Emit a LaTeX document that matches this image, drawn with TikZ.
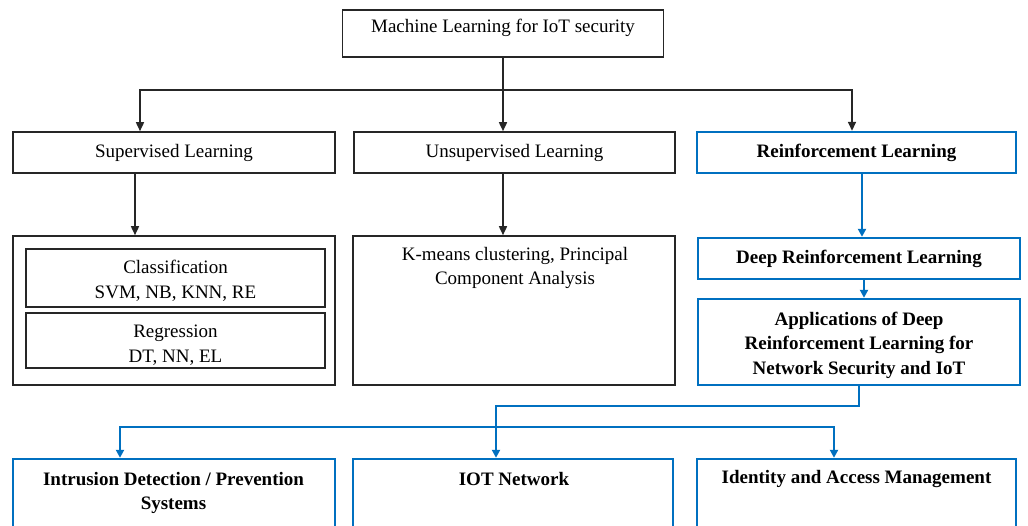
\documentclass[tikz,border=0pt]{standalone}
\usepackage{fontspec}
\setmainfont{Liberation Serif}
\usetikzlibrary{arrows.meta}
\definecolor{dblue}{HTML}{0070C0}
\begin{document}
\begin{tikzpicture}[x=1pt,y=-1pt,
  txt/.style={font=\fontsize{19}{24.5}\selectfont, align=center, inner sep=0pt},
  btxt/.style={txt, font=\fontsize{19}{24.5}\selectfont\bfseries},
  kbox/.style={txt, draw=black!85, line width=1.6pt},
  bbox/.style={btxt, draw=dblue, line width=2.4pt},
  karr/.style={draw=black!85, line width=1.6pt, -{Triangle[length=9pt,width=8pt]}},
  barr/.style={draw=dblue, line width=2.4pt, -{Triangle[length=8pt,width=8pt]}}]

% page frame
\clip (0,0) rectangle (1028,526);
\fill[white] (0,0) rectangle (1028,526);

% root
\node[kbox, minimum width=321pt, minimum height=47pt] (root) at (503,33.5) {};
\node[txt] (roottxt) at (503,28) {Machine Learning for IoT security};

% first level
\node[kbox, minimum width=322pt, minimum height=41pt] (sup) at (174,152.5) {Supervised Learning};
\node[kbox, minimum width=321pt, minimum height=41pt] (unsup) at (514.5,152.5) {Unsupervised Learning};
\node[bbox, minimum width=319pt, minimum height=41pt] (rl) at (856.5,152.5) {Reinforcement Learning};

% supervised methods
\node[kbox, minimum width=322pt, minimum height=149pt] (supc) at (174,310.5) {};
\node[kbox, minimum width=299pt, minimum height=58pt] (cls) at (175.5,278) {};
\node[txt] (clstxt) at (175.5,281) {Classification\\SVM, NB, KNN, RE};
\node[kbox, minimum width=299pt, minimum height=55pt] (reg) at (175.5,340.5) {};
\node[txt] (regtxt) at (175.5,345) {Regression\\DT, NN, EL};

% unsupervised methods
\node[kbox, minimum width=322pt, minimum height=149pt] (unsc) at (514,310.5) {};
\node[txt] (unsctxt) at (515,268) {K-means clustering, Principal\\Component Analysis};

% reinforcement branch
\node[bbox, minimum width=322pt, minimum height=41pt] (drl) at (859,258.5) {Deep Reinforcement Learning};
\node[bbox, minimum width=322pt, minimum height=86pt] (app) at (859,342) {};
\node[btxt] (apptxt) at (859,345) {Applications of Deep\\Reinforcement Learning for\\Network Security and IoT};

% application areas
\node[bbox, minimum width=322pt, minimum height=101pt] (ids) at (174,509.5) {};
\node[btxt] (idstxt) at (173.5,493) {Intrusion Detection / Prevention\\Systems};
\node[bbox, minimum width=320pt, minimum height=101pt] (iot) at (513,509.5) {};
\node[btxt] (iottxt) at (514,479.5) {IOT Network};
\node[bbox, minimum width=319pt, minimum height=101pt] (iam) at (856.5,509.5) {};
\node[btxt] (iamtxt) at (856.5,479) {Identity and Access Management};

% black connectors
\coordinate (j1) at (503,90);
\draw[karr] (root.south) -- (root.south |- unsup.north);
\draw[karr] (j1) -| ([xshift=-34pt]sup.north);
\draw[karr] (j1) -| ([xshift=-4.5pt]rl.north);
\draw[karr] ([xshift=-39pt]sup.south) -- ([xshift=-39pt]sup.south |- supc.north);
\draw[karr] ([xshift=-11.5pt]unsup.south) -- ([xshift=-11.5pt]unsup.south |- unsc.north);

% blue connectors
\draw[barr] ([xshift=5.5pt]rl.south) -- ([xshift=5.5pt]rl.south |- drl.north);
\draw[barr] ([xshift=5pt]drl.south) -- ([xshift=5pt]drl.south |- app.north);
\draw[barr] (app.south) -- ++(0,20) -| ([xshift=-17pt]iot.north);
\coordinate (j2) at (496,427);
\draw[barr] (j2) -| ([xshift=-54pt]ids.north);
\draw[barr] (j2) -| ([xshift=-22.5pt]iam.north);
\end{tikzpicture}
\end{document}
